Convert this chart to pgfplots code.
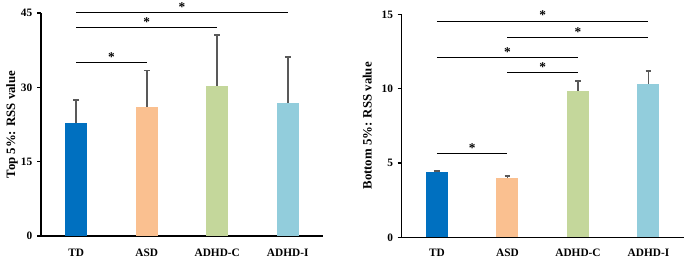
\documentclass[border=0pt]{standalone}
\usepackage{pgfplots}
\pgfplotsset{compat=1.18}
\usepackage{fontspec}
\setmainfont{Liberation Serif}
\definecolor{cTD}{HTML}{0070C0}
\definecolor{cASD}{HTML}{FAC090}
\definecolor{cC}{HTML}{C4D79B}
\definecolor{cI}{HTML}{92CDDC}
\definecolor{ebar}{HTML}{595959}
\pgfplotsset{
 myaxis/.style={
  scale only axis,
  width=211.5pt, height=167.25pt,
  xmin=-0.5, xmax=3.5, ymin=0,
  axis x line*=bottom, axis y line*=left,
  xtick={0,1,2,3}, xticklabels={TD,ASD,ADHD-C,ADHD-I},
  x tick style={draw=none},
  y tick style={black, line width=0.8pt},
  tick align=outside, major tick length=3pt,
  ticklabel style={font=\fontsize{8.5}{9}\selectfont\bfseries},
  /pgf/number format/assume math mode=true,
  ylabel style={font=\fontsize{9.6}{10}\selectfont\bfseries},
  axis line style={black, line width=0.9pt, -},
  clip=false,
  ybar, bar width=16.5pt, bar shift=0pt,
 },
 mybar/.style={fill=#1, draw=none,
  error bars/.cd, y dir=plus, y explicit,
  error bar style={draw=ebar, line width=1.4pt},
  error mark options={rotate=90, draw=ebar, mark size=2.2pt, line width=1.4pt}},
}
\tikzset{
 sig/.style={black, line width=0.7pt},
 star/.style={font=\fontsize{10}{10}\selectfont\bfseries, anchor=base, inner sep=0pt, yshift=0.8pt},
}
\begin{document}
\begin{tikzpicture}
\useasboundingbox (0,0) rectangle (513.75pt,193.5pt);
\begin{axis}[myaxis, at={(30.75pt,16.5pt)}, anchor=south west,
  ymax=45, ytick={0,15,30,45}, ylabel={Top 5\%: RSS value},
  xticklabel style={yshift=-3pt},
  ylabel style={yshift=-4.5pt}]
\addplot+[mybar=cTD] coordinates {(0,22.9) +- (0,4.5)};
\addplot+[mybar=cASD] coordinates {(1,26.1) +- (0,7.3)};
\addplot+[mybar=cC] coordinates {(2,30.3) +- (0,10.3)};
\addplot+[mybar=cI] coordinates {(3,26.9) +- (0,9.2)};
\draw[sig] (axis cs:0,35.0) -- (axis cs:1,35.0);
\node[star] at (axis cs:0.5,35.0) {*};
\draw[sig] (axis cs:0,42.0) -- (axis cs:2,42.0);
\node[star] at (axis cs:1,42.0) {*};
\draw[sig] (axis cs:0,45.1) -- (axis cs:3,45.1);
\node[star] at (axis cs:1.5,45.1) {*};
\end{axis}
\begin{axis}[myaxis, at={(301.3pt,15.5pt)}, anchor=south west,
  ymax=15, ytick={0,5,10,15}, ylabel={Bottom 5\%: RSS value},
  xticklabel style={yshift=-2pt},
  ylabel style={yshift=0.5pt}]
\addplot+[mybar=cTD] coordinates {(0,4.37) +- (0,0.09)};
\addplot+[mybar=cASD] coordinates {(1,3.97) +- (0,0.17)};
\addplot+[mybar=cC] coordinates {(2,9.86) +- (0,0.63)};
\addplot+[mybar=cI] coordinates {(3,10.31) +- (0,0.88)};
\draw[sig] (axis cs:0,5.65) -- (axis cs:1,5.65);
\node[star] at (axis cs:0.5,5.65) {*};
\draw[sig] (axis cs:1,11.08) -- (axis cs:2,11.08);
\node[star] at (axis cs:1.5,11.08) {*};
\draw[sig] (axis cs:0,12.1) -- (axis cs:2,12.1);
\node[star] at (axis cs:1,12.1) {*};
\draw[sig] (axis cs:1,13.45) -- (axis cs:3,13.45);
\node[star] at (axis cs:2,13.45) {*};
\draw[sig] (axis cs:0,14.55) -- (axis cs:3,14.55);
\node[star] at (axis cs:1.5,14.55) {*};
\end{axis}
\end{tikzpicture}
\end{document}
